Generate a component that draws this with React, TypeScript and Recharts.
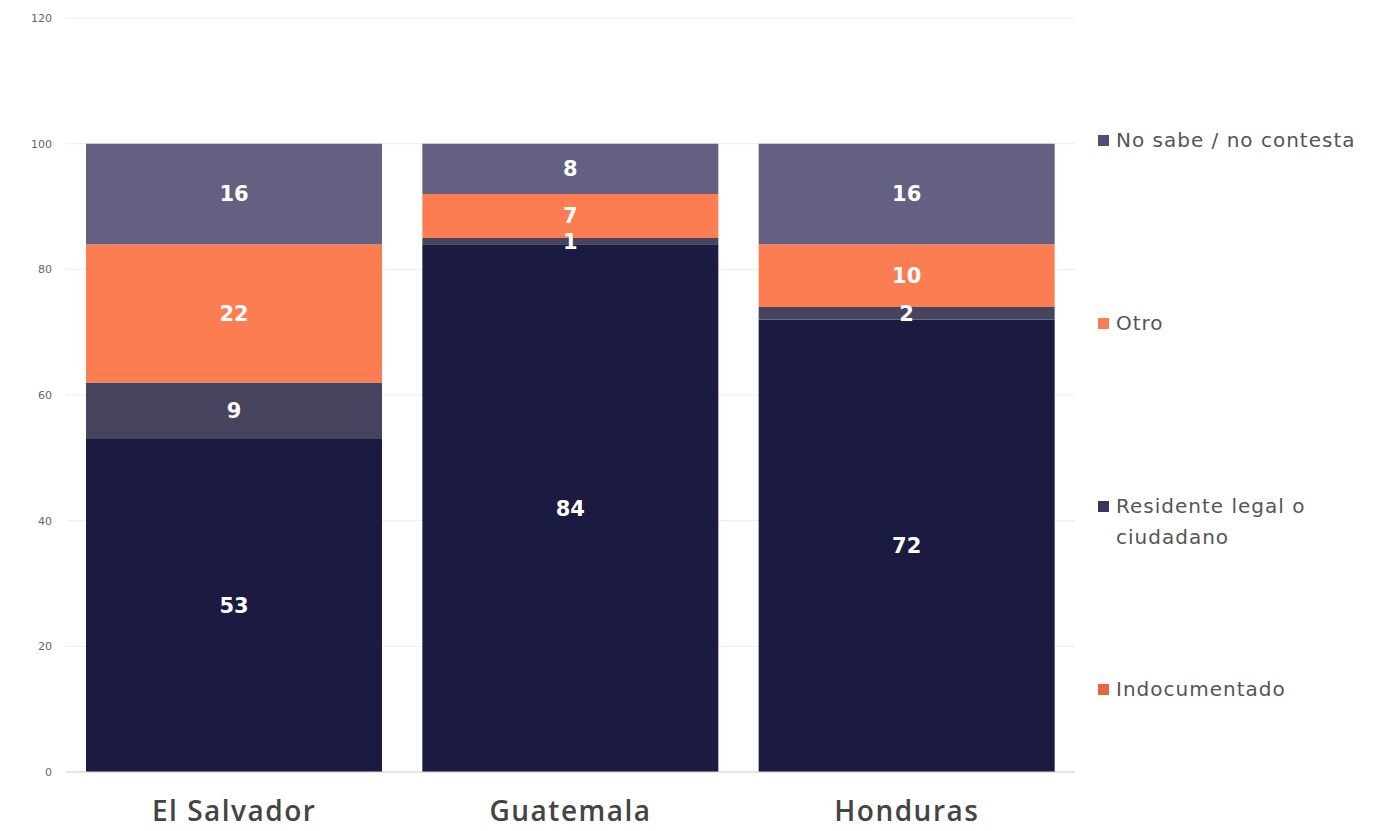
import React from 'react'
import {
  BarChart,
  Bar,
  XAxis,
  YAxis,
  CartesianGrid,
  LabelList,
} from 'recharts'

const countries = ['El Salvador', 'Guatemala', 'Honduras']
const indocumentado = [53, 84, 72]
const residente = [9, 1, 2]
const otro = [22, 7, 10]
const noSabe = [16, 8, 16]
const yTicks = [0, 20, 40, 60, 80, 100, 120]
const edgeTicks = [0, 1, 2, 3]

const data = countries.map((country, i) => ({
  country,
  indocumentado: indocumentado[i],
  residente: residente[i],
  otro: otro[i],
  noSabe: noSabe[i],
}))

const legendItems = [
  { label: 'No sabe / no contesta', color: '#514c7a' },
  { label: 'Otro', color: '#fc7d54' },
  { label: 'Residente legal o ciudadano', color: '#3a3858' },
  { label: 'Indocumentado', color: '#e8643f' },
]

const font = '"DejaVu Sans", "Open Sans", sans-serif'
const axisFont = '"Open Sans", "Noto Sans", sans-serif'

const labelStyle = { fill: '#fff', fontSize: 21, fontWeight: 600, fontFamily: font }

export default function App() {
  return (
    <div style={{ position: 'absolute', top: 0, left: 0, width: 1395, height: 831, background: '#fff' }}>
      <BarChart
        width={1395}
        height={831}
        data={data}
        margin={{ top: 18, right: 320, left: 0, bottom: 0 }}
        barCategoryGap={20}
      >
        <CartesianGrid vertical={false} stroke="#ededed" />
        <XAxis
          xAxisId="a"
          type="number"
          domain={[0, 3]}
          ticks={edgeTicks}
          tick={false}
          tickSize={10}
          height={1}
          stroke="#d4d4d4"
        />
        <XAxis
          xAxisId="b"
          dataKey="country"
          axisLine={false}
          tickLine={false}
          height={58}
          tick={{ fill: '#444', fontSize: 28, fontWeight: 600, fontFamily: axisFont, letterSpacing: 1.5 }}
          tickMargin={22}
        />
        <YAxis
          domain={[0, 120]}
          ticks={yTicks}
          width={66}
          axisLine={false}
          tickLine={false}
          tickMargin={8}
          tick={{ fill: '#666', fontSize: 11, fontFamily: font }}
        />
        <Bar xAxisId="b" dataKey="indocumentado" stackId="a" fill="#1b1a40" isAnimationActive={false}>
          <LabelList dataKey="indocumentado" position="center" style={labelStyle} />
        </Bar>
        <Bar xAxisId="b" dataKey="residente" stackId="a" fill="#47445f" isAnimationActive={false}>
          <LabelList dataKey="residente" position="center" style={labelStyle} />
        </Bar>
        <Bar xAxisId="b" dataKey="otro" stackId="a" fill="#fc7d52" isAnimationActive={false}>
          <LabelList dataKey="otro" position="center" style={labelStyle} />
        </Bar>
        <Bar xAxisId="b" dataKey="noSabe" stackId="a" fill="#636082" isAnimationActive={false}>
          <LabelList dataKey="noSabe" position="center" style={labelStyle} />
        </Bar>
      </BarChart>
      <div style={{ position: 'absolute', left: 1098, top: 125, width: 297, fontFamily: font }}>
        {legendItems.map((item) => (
          <div
            key={item.label}
            style={{
              display: 'flex',
              alignItems: 'flex-start',
              height: 183,
              fontSize: 20,
              letterSpacing: 1,
              color: '#555',
              lineHeight: '31px',
            }}
          >
            <span
              style={{
                display: 'inline-block',
                width: 11,
                height: 11,
                background: item.color,
                marginTop: 10,
                marginRight: 7,
                flexShrink: 0,
              }}
            />
            <span style={{ width: 240 }}>{item.label}</span>
          </div>
        ))}
      </div>
    </div>
  )
}
